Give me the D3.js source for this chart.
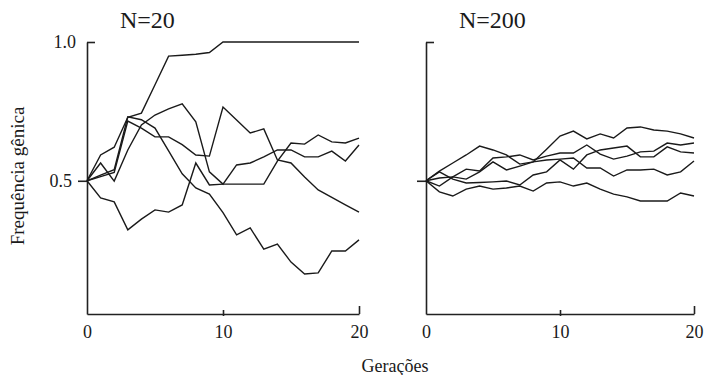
<!DOCTYPE html>
<html>
<head>
<meta charset="utf-8">
<script src="https://cdn.jsdelivr.net/npm/d3@7"></script>
<style>
body { margin: 0; background: #fff; }
.axis path, .axis line { stroke: #222; stroke-width: 1.6px; }
.run { fill: none; stroke: #1a1a1a; stroke-width: 1.4px; stroke-linejoin: miter; }
</style>
</head>
<body>
<div id="chart-area"></div>
<script>
// Generations (x values) and tick labels
var generations = [0, 1, 2, 3, 4, 5, 6, 7, 8, 9, 10, 11, 12, 13, 14, 15, 16, 17, 18, 19, 20];
var xTicks = [0, 10, 20];
var yTicks = [0.5, 1.0];
var panelTitles = ["N=20", "N=200"];

// N=20, five runs (gene frequency per generation)
var small1 = [0.5, 0.593, 0.621, 0.729, 0.744, 0.846, 0.949, 0.952, 0.956, 0.962, 1.0, 1.0, 1.0, 1.0, 1.0, 1.0, 1.0, 1.0, 1.0, 1.0, 1.0];
var small2 = [0.5, 0.515, 0.53, 0.715, 0.69, 0.658, 0.658, 0.63, 0.593, 0.589, 0.766, 0.719, 0.672, 0.687, 0.575, 0.564, 0.514, 0.467, 0.44, 0.413, 0.387];
var small3 = [0.5, 0.564, 0.499, 0.611, 0.701, 0.737, 0.759, 0.777, 0.712, 0.532, 0.488, 0.557, 0.564, 0.586, 0.611, 0.611, 0.586, 0.586, 0.607, 0.571, 0.629];
var small4 = [0.5, 0.438, 0.424, 0.323, 0.362, 0.395, 0.387, 0.413, 0.564, 0.485, 0.488, 0.488, 0.488, 0.488, 0.571, 0.636, 0.632, 0.665, 0.64, 0.636, 0.654];
var small5 = [0.5, 0.52, 0.54, 0.73, 0.72, 0.69, 0.608, 0.525, 0.474, 0.452, 0.385, 0.305, 0.33, 0.254, 0.272, 0.207, 0.164, 0.168, 0.247, 0.247, 0.287];

// N=200, five runs
var large1 = [0.5, 0.535, 0.564, 0.593, 0.625, 0.611, 0.593, 0.56, 0.568, 0.614, 0.661, 0.679, 0.651, 0.669, 0.654, 0.69, 0.694, 0.683, 0.679, 0.669, 0.654];
var large2 = [0.5, 0.481, 0.514, 0.542, 0.535, 0.582, 0.586, 0.593, 0.575, 0.589, 0.6, 0.6, 0.629, 0.596, 0.578, 0.589, 0.604, 0.607, 0.636, 0.629, 0.636];
var large3 = [0.5, 0.51, 0.514, 0.506, 0.532, 0.568, 0.539, 0.553, 0.568, 0.575, 0.578, 0.582, 0.546, 0.546, 0.517, 0.539, 0.539, 0.542, 0.521, 0.532, 0.571];
var large4 = [0.5, 0.532, 0.506, 0.492, 0.494, 0.496, 0.499, 0.485, 0.521, 0.532, 0.575, 0.542, 0.593, 0.611, 0.618, 0.625, 0.586, 0.586, 0.622, 0.604, 0.6];
var large5 = [0.5, 0.46, 0.445, 0.47, 0.481, 0.47, 0.474, 0.481, 0.463, 0.492, 0.496, 0.481, 0.492, 0.47, 0.452, 0.442, 0.427, 0.427, 0.427, 0.456, 0.445];

var width = 709, height = 375;
var serif = "'Liberation Serif', 'Times New Roman', Times, serif";

var svg = d3.select("#chart-area")
    .append("svg")
    .attr("width", width)
    .attr("height", height)
    .attr("font-family", serif);

// Shared y scale (axis bottom sits a little above 0)
var y = d3.scaleLinear().domain([0.02, 1]).range([314, 42]);

var panels = [
    { title: panelTitles[0], runs: [small1, small2, small3, small4, small5], left: 87, right: 359, labels: true },
    { title: panelTitles[1], runs: [large1, large2, large3, large4, large5], left: 426, right: 694, labels: false }
];

panels.forEach(function(p) {
    var x = d3.scaleLinear().domain([0, 20]).range([p.left, p.right]);
    var g = svg.append("g");

    // Y axis: 0.5 tick outward, 1.0 tick inward
    var yAxis = g.append("g")
        .attr("class", "axis")
        .attr("transform", "translate(" + p.left + ",0)")
        .call(d3.axisLeft(y).tickValues(yTicks).tickSize(9).tickSizeOuter(0)
            .tickFormat(d3.format(".1f")));
    yAxis.attr("font-family", serif);
    yAxis.selectAll(".tick line")
        .attr("x2", function(d) { return d === 1 ? 8 : -9; });
    yAxis.selectAll(".tick text")
        .attr("font-family", serif)
        .attr("font-size", "18px")
        .attr("fill", "#1a1a1a")
        .attr("x", function(d) { return d === 1 ? -11 : -15; });
    if (!p.labels) yAxis.selectAll(".tick text").remove();

    // X axis
    var xAxis = g.append("g")
        .attr("class", "axis")
        .attr("transform", "translate(0," + y.range()[0] + ")")
        .call(d3.axisBottom(x).tickValues(xTicks).tickSize(0).tickPadding(11).tickSizeOuter(0));
    xAxis.attr("font-family", serif);
    xAxis.selectAll(".tick line")
        .attr("y1", function(d) { return d === 10 ? -4 : (d === 20 ? -8 : 0); })
        .attr("y2", function(d) { return d === 10 ? 2 : 0; });
    xAxis.selectAll(".tick text")
        .attr("font-family", serif)
        .attr("font-size", "18px")
        .attr("fill", "#1a1a1a");
    g.selectAll(".axis .domain").attr("fill", "none");

    // Runs
    var line = d3.line()
        .x(function(d, i) { return x(generations[i]); })
        .y(function(d) { return y(d); });

    g.selectAll(".run")
        .data(p.runs)
        .enter().append("path")
        .attr("class", "run")
        .attr("d", line);

    // Title, placed near the left of each panel
    g.append("text")
        .attr("x", p.left + 33)
        .attr("y", 28)
        .attr("text-anchor", "start")
        .attr("font-family", serif)
        .attr("font-size", "24px")
        .attr("fill", "#1a1a1a")
        .text(p.title);
});

// Axis labels
svg.append("text")
    .attr("transform", "translate(24,176) rotate(-90)")
    .attr("text-anchor", "middle")
    .attr("font-family", serif)
    .attr("font-size", "19px")
    .attr("fill", "#1a1a1a")
    .text("Frequência gênica");

svg.append("text")
    .attr("x", 395)
    .attr("y", 372)
    .attr("text-anchor", "middle")
    .attr("font-family", serif)
    .attr("font-size", "18px")
    .attr("fill", "#1a1a1a")
    .text("Gerações");
</script>
</body>
</html>
